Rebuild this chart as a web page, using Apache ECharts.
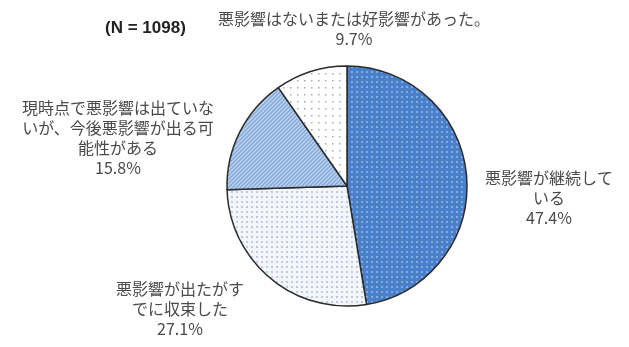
<!DOCTYPE html>
<html>
<head>
<meta charset="utf-8">
<script src="https://cdn.jsdelivr.net/npm/echarts@6/dist/echarts.min.js"></script>
<style>
  html, body { margin: 0; padding: 0; background: #fff; }
  #chart { width: 629px; height: 347px; }
</style>
</head>
<body>
<div id="chart"></div>
<script>
// Survey responses (N = 1098), clockwise from 12 o'clock
const categories = [
  '悪影響が継続して\nいる',
  '悪影響が出たがす\nでに収束した',
  '現時点で悪影響は出ていな\nいが、今後悪影響が出る可\n能性がある',
  '悪影響はないまたは好影響があった。'
];
const values = [47.4, 27.1, 15.8, 9.7];
const sampleNote = '(N = 1098)';

// Label anchor points (block centres) for each slice
const labelAnchors = [[549, 198], [180, 309], [118, 138], [354, 29]];

// Small tiled fills for each slice
function tile(size, draw) {
  const c = document.createElement('canvas');
  c.width = size; c.height = size;
  draw(c.getContext('2d'), size);
  return { image: c, repeat: 'repeat' };
}
const fills = [
  tile(5, (g, s) => {
    g.fillStyle = '#4a7fca'; g.fillRect(0, 0, s, s);
    g.fillStyle = '#86abdf'; g.fillRect(1, 1, 2, 2);
  }),
  tile(5, (g, s) => {
    g.fillStyle = '#f3f6fb'; g.fillRect(0, 0, s, s);
    g.fillStyle = '#bccbe2'; g.fillRect(1, 1, 2, 2);
  }),
  tile(4, (g, s) => {
    g.fillStyle = '#b9d0ee'; g.fillRect(0, 0, s, s);
    g.strokeStyle = '#7ea2d6'; g.lineWidth = 1.2;
    g.beginPath();
    g.moveTo(0, s); g.lineTo(s, 0);
    g.moveTo(-1, 1); g.lineTo(1, -1);
    g.moveTo(s - 1, s + 1); g.lineTo(s + 1, s - 1);
    g.stroke();
  }),
  tile(7, (g, s) => {
    g.fillStyle = '#ffffff'; g.fillRect(0, 0, s, s);
    g.fillStyle = '#a9a9b0'; g.fillRect(3, 3, 1.5, 1.5);
  })
];

const chart = echarts.init(document.getElementById('chart'), null, { renderer: 'canvas' });
chart.setOption({
  animation: false,
  backgroundColor: '#ffffff',
  graphic: [{
    type: 'text',
    left: 105,
    top: 20,
    style: {
      text: sampleNote,
      fontFamily: 'Liberation Sans, Arial, sans-serif',
      fontWeight: 'bold',
      fontSize: 17,
      fill: '#222'
    }
  }],
  series: [{
    type: 'pie',
    center: [347, 186],
    radius: 120,
    startAngle: 90,
    clockwise: true,
    silent: true,
    itemStyle: { borderColor: '#2b2b2b', borderWidth: 1.5 },
    labelLine: { show: false },
    label: {
      show: true,
      position: 'outside',
      overflow: 'none',
      formatter: p => p.name + '\n' + p.value.toFixed(1) + '%',
      fontFamily: 'Noto Sans CJK JP, sans-serif',
      fontSize: 16,
      lineHeight: 20,
      color: '#4a4a4a',
      align: 'center'
    },
    labelLayout: params => ({
      x: labelAnchors[params.dataIndex][0],
      y: labelAnchors[params.dataIndex][1],
      align: 'center',
      verticalAlign: 'middle'
    }),
    data: categories.map((name, i) => ({
      name: name,
      value: values[i],
      itemStyle: { color: fills[i] }
    }))
  }]
});
</script>
</body>
</html>
